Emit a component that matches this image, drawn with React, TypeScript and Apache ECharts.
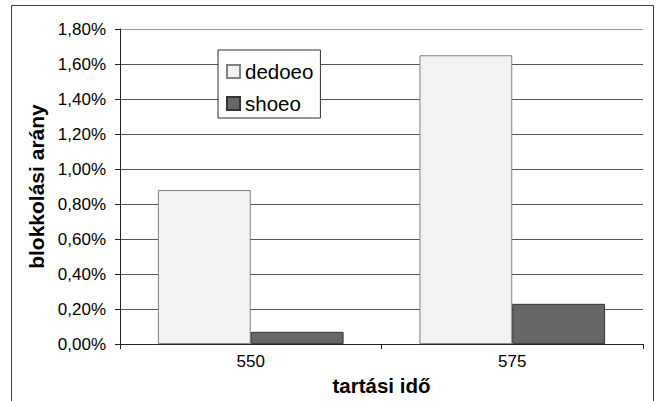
import React, { useEffect, useRef } from "react";
import * as echarts from "echarts";

const categories = ["550", "575"];
const dedoeoValues = [0.88, 1.65];
const shoeoValues = [0.07, 0.23];
const seriesNames = ["dedoeo", "shoeo"];
const xAxisTitle = "tartási idő";
const yAxisTitle = "blokkolási arány";

const FONT = "'Liberation Sans', Arial, sans-serif";

export default function App() {
  const ref = useRef<HTMLDivElement>(null);
  useEffect(() => {
    if (!ref.current) return;
    const chart = echarts.init(ref.current, undefined, { renderer: "svg" });
    const gridColors = ["#555", "#555", "#555", "#555", "#555", "#555", "#555", "#555", "#555", "#999"];
    chart.setOption({
      animation: false,
      backgroundColor: "#ffffff",
      textStyle: { fontFamily: FONT },
      graphic: [
        {
          type: "rect",
          shape: { x: 11.5, y: 5.5, width: 642, height: 420 },
          style: { fill: "none", stroke: "#404040", lineWidth: 1 },
          silent: true,
          z: 0,
        },
      ],
      grid: { left: 120, right: 16, top: 29, bottom: 55 },
      legend: {
        orient: "vertical",
        left: 218,
        top: 50,
        padding: [11, 7, 4, 8],
        itemWidth: 13,
        itemHeight: 13,
        itemGap: 11,
        itemTextGap: 6,
        icon: "rect",
        backgroundColor: "#ffffff",
        borderColor: "#333",
        borderWidth: 1,
        borderRadius: 0,
        textStyle: { fontFamily: FONT, fontSize: 20.5, color: "#000", lineHeight: 19 },
        data: seriesNames,
        z: 10,
      },
      xAxis: {
        type: "category",
        data: categories,
        name: xAxisTitle,
        nameLocation: "middle",
        nameGap: 25,
        nameTextStyle: { fontFamily: FONT, fontSize: 20.5, fontWeight: "bold", color: "#000" },
        axisLine: { show: true, lineStyle: { color: "#222", width: 1 } },
        axisTick: { show: true, length: 5, lineStyle: { color: "#222" } },
        axisLabel: { fontFamily: FONT, fontSize: 17, color: "#000", margin: 9 },
      },
      yAxis: {
        type: "value",
        min: 0,
        max: 1.8,
        interval: 0.2,
        name: yAxisTitle,
        nameLocation: "middle",
        nameGap: 68,
        nameTextStyle: { fontFamily: FONT, fontSize: 21, fontWeight: "bold", color: "#000" },
        axisLine: { show: true, lineStyle: { color: "#222", width: 1 } },
        axisTick: { show: true, length: 5, lineStyle: { color: "#222" } },
        axisLabel: {
          fontFamily: FONT,
          fontSize: 17,
          color: "#000",
          margin: 14,
          formatter: (v: number) => v.toFixed(2).replace(".", ",") + "%",
        },
        splitLine: { show: true, lineStyle: { color: gridColors, width: 1 } },
      },
      series: [
        {
          name: seriesNames[0],
          type: "bar",
          data: dedoeoValues,
          barGap: "0%",
          barCategoryGap: "29%",
          itemStyle: { color: "#f2f2f2", borderColor: "#808080", borderWidth: 1 },
        },
        {
          name: seriesNames[1],
          type: "bar",
          data: shoeoValues,
          barGap: "0%",
          barCategoryGap: "29%",
          itemStyle: { color: "#676767", borderColor: "#333333", borderWidth: 1 },
        },
      ],
    });
    return () => chart.dispose();
  }, []);
  return (
    <div
      ref={ref}
      style={{ position: "fixed", left: 0, top: 0, width: 659, height: 401 }}
    />
  );
}
